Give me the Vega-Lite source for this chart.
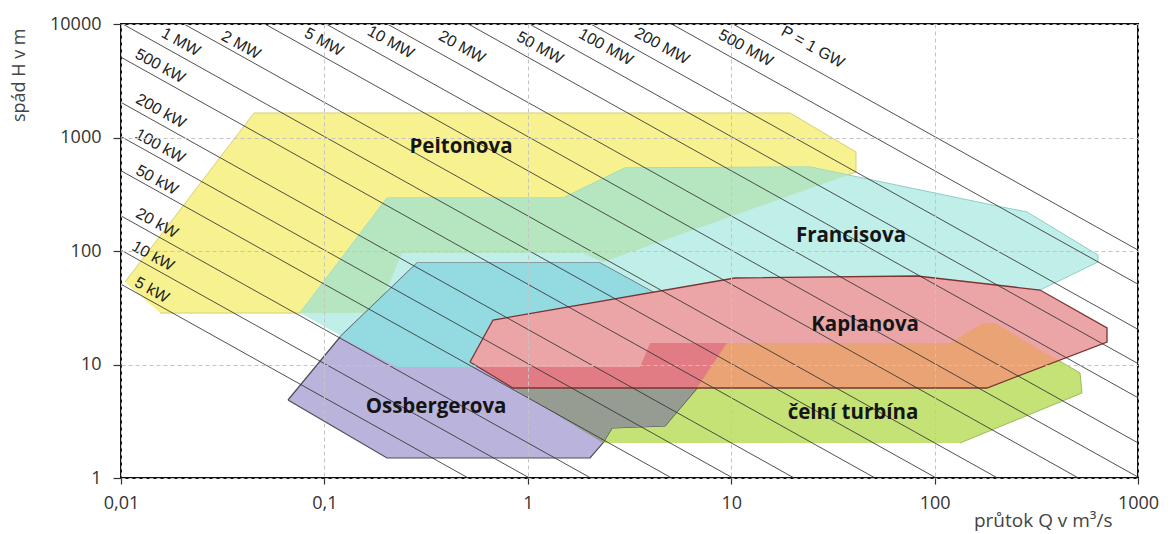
{
  "$schema": "https://vega.github.io/schema/vega-lite/v6.json",
  "width": 1017,
  "height": 454,
  "autosize": "none",
  "padding": {"left": 121, "top": 24, "right": 35, "bottom": 56},
  "background": "white",
  "config": {
    "view": {"stroke": "#111", "strokeWidth": 2},
    "font": "Open Sans",
    "axis": {
      "domain": false,
      "grid": true,
      "gridDash": [4, 3],
      "gridColor": "#c4c4c4",
      "gridWidth": 1,
      "tickColor": "#333",
      "tickWidth": 1.2,
      "labelColor": "#333",
      "labelFont": "Open Sans",
      "labelFontSize": 18,
      "labelFlush": false,
      "labelOverlap": false,
      "titleFont": "Open Sans",
      "titleFontWeight": "normal",
      "titleColor": "#444"
    }
  },
  "datasets": {
    "poly": [
      {"r": "P", "i": 0, "Q": 0.01046, "H": 53.3},
      {"r": "P", "i": 1, "Q": 0.04507, "H": 1644},
      {"r": "P", "i": 2, "Q": 19.46, "H": 1644},
      {"r": "P", "i": 3, "Q": 41.08, "H": 745},
      {"r": "P", "i": 4, "Q": 41.08, "H": 497},
      {"r": "P", "i": 5, "Q": 2.343, "H": 80.0},
      {"r": "P", "i": 6, "Q": 1.868, "H": 96.0},
      {"r": "P", "i": 7, "Q": 0.2407, "H": 96.0},
      {"r": "P", "i": 8, "Q": 0.1814, "H": 28.4},
      {"r": "P", "i": 9, "Q": 0.01555, "H": 28.4},
      {"r": "F", "i": 0, "Q": 0.07586, "H": 28.4},
      {"r": "F", "i": 1, "Q": 0.2031, "H": 293},
      {"r": "F", "i": 2, "Q": 1.49, "H": 293},
      {"r": "F", "i": 3, "Q": 3.005, "H": 539},
      {"r": "F", "i": 4, "Q": 24.41, "H": 550},
      {"r": "F", "i": 5, "Q": 227.0, "H": 239},
      {"r": "F", "i": 6, "Q": 284.6, "H": 221},
      {"r": "F", "i": 7, "Q": 635.8, "H": 92.2},
      {"r": "F", "i": 8, "Q": 635.8, "H": 80.0},
      {"r": "F", "i": 9, "Q": 329.8, "H": 45.3},
      {"r": "F", "i": 10, "Q": 11.05, "H": 45.3},
      {"r": "F", "i": 11, "Q": 0.5379, "H": 9.51},
      {"r": "F", "i": 12, "Q": 0.2274, "H": 9.51},
      {"r": "M", "i": 0, "Q": 0.07586, "H": 28.4},
      {"r": "M", "i": 1, "Q": 0.2031, "H": 293},
      {"r": "M", "i": 2, "Q": 1.49, "H": 293},
      {"r": "M", "i": 3, "Q": 3.005, "H": 539},
      {"r": "M", "i": 4, "Q": 24.41, "H": 550},
      {"r": "M", "i": 5, "Q": 37.51, "H": 467},
      {"r": "M", "i": 6, "Q": 2.343, "H": 80.0},
      {"r": "M", "i": 7, "Q": 1.868, "H": 96.0},
      {"r": "M", "i": 8, "Q": 0.2407, "H": 96.0},
      {"r": "M", "i": 9, "Q": 0.1814, "H": 28.4},
      {"r": "C", "i": 0, "Q": 2.343, "H": 2.034},
      {"r": "C", "i": 1, "Q": 0.8177, "H": 6.465},
      {"r": "C", "i": 2, "Q": 3.99, "H": 15.47},
      {"r": "C", "i": 3, "Q": 119.0, "H": 15.47},
      {"r": "C", "i": 4, "Q": 173.0, "H": 23.21},
      {"r": "C", "i": 5, "Q": 198.2, "H": 23.21},
      {"r": "C", "i": 6, "Q": 518.6, "H": 8.417},
      {"r": "C", "i": 7, "Q": 530.5, "H": 5.61},
      {"r": "C", "i": 8, "Q": 133.3, "H": 2.034},
      {"r": "O", "i": 0, "Q": 0.06622, "H": 4.867},
      {"r": "O", "i": 1, "Q": 0.1193, "H": 17.47},
      {"r": "O", "i": 2, "Q": 0.2853, "H": 78.4},
      {"r": "O", "i": 3, "Q": 2.265, "H": 78.4},
      {"r": "O", "i": 4, "Q": 4.467, "H": 40.1},
      {"r": "O", "i": 5, "Q": 11.05, "H": 16.44},
      {"r": "O", "i": 6, "Q": 6.79, "H": 6.209},
      {"r": "O", "i": 7, "Q": 4.727, "H": 2.872},
      {"r": "O", "i": 8, "Q": 2.594, "H": 2.758},
      {"r": "O", "i": 9, "Q": 2.343, "H": 2.034},
      {"r": "O", "i": 10, "Q": 2.022, "H": 1.5},
      {"r": "O", "i": 11, "Q": 0.2031, "H": 1.5},
      {"r": "O", "i": 12, "Q": 0.06622, "H": 4.867},
      {"r": "D", "i": 0, "Q": 0.1193, "H": 17.47},
      {"r": "D", "i": 1, "Q": 0.2853, "H": 78.4},
      {"r": "D", "i": 2, "Q": 2.265, "H": 78.4},
      {"r": "D", "i": 3, "Q": 4.467, "H": 40.1},
      {"r": "D", "i": 4, "Q": 1.439, "H": 9.51},
      {"r": "D", "i": 5, "Q": 0.2274, "H": 9.51},
      {"r": "K", "i": 0, "Q": 0.5199, "H": 10.52},
      {"r": "K", "i": 1, "Q": 0.6745, "H": 24.66},
      {"r": "K", "i": 2, "Q": 10.44, "H": 57.8},
      {"r": "K", "i": 3, "Q": 81.94, "H": 60.2},
      {"r": "K", "i": 4, "Q": 329.8, "H": 45.3},
      {"r": "K", "i": 5, "Q": 704.2, "H": 20.97},
      {"r": "K", "i": 6, "Q": 704.2, "H": 15.79},
      {"r": "K", "i": 7, "Q": 180.9, "H": 6.209},
      {"r": "K", "i": 8, "Q": 0.8458, "H": 6.209},
      {"r": "K", "i": 9, "Q": 0.5199, "H": 10.52},
      {"r": "G", "i": 0, "Q": 0.8458, "H": 6.209},
      {"r": "G", "i": 1, "Q": 6.79, "H": 6.209},
      {"r": "G", "i": 2, "Q": 4.727, "H": 2.872},
      {"r": "G", "i": 3, "Q": 2.594, "H": 2.758},
      {"r": "G", "i": 4, "Q": 2.343, "H": 2.034},
      {"r": "R", "i": 0, "Q": 9.537, "H": 15.47},
      {"r": "R", "i": 1, "Q": 119.0, "H": 15.47},
      {"r": "R", "i": 2, "Q": 173.0, "H": 23.21},
      {"r": "R", "i": 3, "Q": 198.2, "H": 23.21},
      {"r": "R", "i": 4, "Q": 408.9, "H": 10.74},
      {"r": "R", "i": 5, "Q": 180.9, "H": 6.209},
      {"r": "R", "i": 6, "Q": 6.79, "H": 6.209},
      {"r": "X", "i": 0, "Q": 0.5691, "H": 9.506},
      {"r": "X", "i": 1, "Q": 3.561, "H": 9.506},
      {"r": "X", "i": 2, "Q": 3.99, "H": 15.47},
      {"r": "X", "i": 3, "Q": 9.537, "H": 15.47},
      {"r": "X", "i": 4, "Q": 6.79, "H": 6.209},
      {"r": "X", "i": 5, "Q": 0.8458, "H": 6.209}
    ],
    "power": [
      {"p": "5 kW", "Q1": 0.01, "H1": 50.97, "Q2": 0.5097, "H2": 1},
      {"p": "10 kW", "Q1": 0.01, "H1": 101.9, "Q2": 1.019, "H2": 1},
      {"p": "20 kW", "Q1": 0.01, "H1": 203.9, "Q2": 2.039, "H2": 1},
      {"p": "50 kW", "Q1": 0.01, "H1": 509.7, "Q2": 5.097, "H2": 1},
      {"p": "100 kW", "Q1": 0.01, "H1": 1019, "Q2": 10.19, "H2": 1},
      {"p": "200 kW", "Q1": 0.01, "H1": 2039, "Q2": 20.39, "H2": 1},
      {"p": "500 kW", "Q1": 0.01, "H1": 5097, "Q2": 50.97, "H2": 1},
      {"p": "1 MW", "Q1": 0.01019, "H1": 10000, "Q2": 101.9, "H2": 1},
      {"p": "2 MW", "Q1": 0.02039, "H1": 10000, "Q2": 203.9, "H2": 1},
      {"p": "5 MW", "Q1": 0.05097, "H1": 10000, "Q2": 509.7, "H2": 1},
      {"p": "10 MW", "Q1": 0.1019, "H1": 10000, "Q2": 1000, "H2": 1.019},
      {"p": "20 MW", "Q1": 0.2039, "H1": 10000, "Q2": 1000, "H2": 2.039},
      {"p": "50 MW", "Q1": 0.5097, "H1": 10000, "Q2": 1000, "H2": 5.097},
      {"p": "100 MW", "Q1": 1.019, "H1": 10000, "Q2": 1000, "H2": 10.19},
      {"p": "200 MW", "Q1": 2.039, "H1": 10000, "Q2": 1000, "H2": 20.39},
      {"p": "500 MW", "Q1": 5.097, "H1": 10000, "Q2": 1000, "H2": 50.97},
      {"p": "1 GW", "Q1": 10.19, "H1": 10000, "Q2": 1000, "H2": 101.9}
    ],
    "plabels": [
      {"t": "1 MW", "Q": 0.0197, "H": 6935},
      {"t": "2 MW", "Q": 0.0389, "H": 6531},
      {"t": "5 MW", "Q": 0.0995, "H": 6935},
      {"t": "10 MW", "Q": 0.212, "H": 6935},
      {"t": "20 MW", "Q": 0.475, "H": 6270},
      {"t": "50 MW", "Q": 1.148, "H": 6150},
      {"t": "100 MW", "Q": 2.42, "H": 6270},
      {"t": "200 MW", "Q": 4.57, "H": 6400},
      {"t": "500 MW", "Q": 11.8, "H": 6150},
      {"t": "P = 1 GW", "Q": 25.2, "H": 6270},
      {"t": "500 kW", "Q": 0.01556, "H": 4266},
      {"t": "200 kW", "Q": 0.0157, "H": 1711},
      {"t": "100 kW", "Q": 0.01556, "H": 841},
      {"t": "50 kW", "Q": 0.01503, "H": 422},
      {"t": "20 kW", "Q": 0.01503, "H": 176},
      {"t": "10 kW", "Q": 0.01437, "H": 90.3},
      {"t": "5 kW", "Q": 0.0142, "H": 45.3}
    ],
    "rlabels": [
      {"t": "Peltonova", "Q": 0.4695, "H": 825},
      {"t": "Francisova", "Q": 38.8, "H": 135.6},
      {"t": "Kaplanova", "Q": 45.5, "H": 22.3},
      {"t": "čelní turbína", "Q": 39.7, "H": 3.74},
      {"t": "Ossbergerova", "Q": 0.354, "H": 4.22}
    ]
  },
  "layer": [
    {
      "data": {"name": "poly"},
      "encoding": {
        "x": {
          "field": "Q", "type": "quantitative",
          "scale": {"type": "log", "domain": [0.01, 1000], "nice": false},
          "axis": {
            "values": [0.01, 0.1, 1, 10, 100, 1000],
            "labelExpr": "replace(toString(datum.value), '.', ',')",
            "labelPadding": 10,
            "tickSize": 6,
            "title": "průtok Q v m³/s",
            "titleAnchor": "end",
            "titleAlign": "right",
            "titleBaseline": "middle",
            "titleX": 991,
            "titleY": 42,
            "titleFontSize": 19,
            "zindex": 1
          }
        },
        "y": {
          "field": "H", "type": "quantitative",
          "scale": {"type": "log", "domain": [1, 10000], "nice": false},
          "axis": {
            "values": [1, 10, 100, 1000, 10000],
            "labelExpr": "toString(datum.value)",
            "labelPadding": 12,
            "tickSize": 8,
            "title": "spád H v m",
            "titleAngle": -90,
            "titleAnchor": "end",
            "titleAlign": "right",
            "titleBaseline": "middle",
            "titleX": -102,
            "titleY": 4,
            "titleFontSize": 18,
            "zindex": 1
          }
        },
        "order": {"field": "i", "type": "quantitative"}
      },
      "layer": [
        {"transform": [{"filter": "datum.r === 'P'"}], "mark": {"type": "line", "filled": true, "fill": "#F7F28F", "stroke": "#d6cf75", "strokeWidth": 1}},
        {"transform": [{"filter": "datum.r === 'F'"}], "mark": {"type": "line", "filled": true, "fill": "#C0EEE9", "stroke": "#8fcfc7", "strokeWidth": 1}},
        {"transform": [{"filter": "datum.r === 'M'"}], "mark": {"type": "line", "filled": true, "fill": "#B5E6C0", "strokeWidth": 0}},
        {"transform": [{"filter": "datum.r === 'C'"}], "mark": {"type": "line", "filled": true, "fill": "#C5E276", "stroke": "#9bbb58", "strokeWidth": 1}},
        {"transform": [{"filter": "datum.r === 'O'"}], "mark": {"type": "line", "filled": true, "fill": "#BAB3DB", "stroke": "#4d4d5a", "strokeWidth": 1.2}},
        {"transform": [{"filter": "datum.r === 'D'"}], "mark": {"type": "line", "filled": true, "fill": "#93DBE1", "strokeWidth": 0}},
        {"transform": [{"filter": "datum.r === 'K'"}], "mark": {"type": "line", "filled": true, "fill": "#EBA5A7", "strokeWidth": 0}},
        {"transform": [{"filter": "datum.r === 'G'"}], "mark": {"type": "line", "filled": true, "fill": "#979C93", "strokeWidth": 0}},
        {"transform": [{"filter": "datum.r === 'R'"}], "mark": {"type": "line", "filled": true, "fill": "#E9A375", "strokeWidth": 0}},
        {"transform": [{"filter": "datum.r === 'X'"}], "mark": {"type": "line", "filled": true, "fill": "#E17C84", "strokeWidth": 0}},
        {"transform": [{"filter": "datum.r === 'K'"}], "mark": {"type": "line", "stroke": "#7a3434", "strokeWidth": 1.3}}
      ]
    },
    {
      "data": {"name": "power"},
      "mark": {"type": "rule", "color": "#333", "strokeWidth": 1, "opacity": 0.85},
      "encoding": {
        "x": {"field": "Q1", "type": "quantitative", "scale": {"type": "log", "domain": [0.01, 1000], "nice": false}},
        "y": {"field": "H1", "type": "quantitative", "scale": {"type": "log", "domain": [1, 10000], "nice": false}},
        "x2": {"field": "Q2"},
        "y2": {"field": "H2"}
      }
    },
    {
      "data": {"name": "plabels"},
      "mark": {"type": "text", "font": "Liberation Sans", "fontSize": 16, "color": "#222", "angle": 29, "align": "center", "baseline": "middle"},
      "encoding": {
        "x": {"field": "Q", "type": "quantitative", "scale": {"type": "log", "domain": [0.01, 1000], "nice": false}},
        "y": {"field": "H", "type": "quantitative", "scale": {"type": "log", "domain": [1, 10000], "nice": false}},
        "text": {"field": "t"}
      }
    },
    {
      "data": {"name": "rlabels"},
      "mark": {"type": "text", "font": "Open Sans", "fontSize": 20.5, "fontWeight": "bold", "color": "#151515", "align": "center", "baseline": "middle"},
      "encoding": {
        "x": {"field": "Q", "type": "quantitative", "scale": {"type": "log", "domain": [0.01, 1000], "nice": false}},
        "y": {"field": "H", "type": "quantitative", "scale": {"type": "log", "domain": [1, 10000], "nice": false}},
        "text": {"field": "t"}
      }
    }
  ]
}
